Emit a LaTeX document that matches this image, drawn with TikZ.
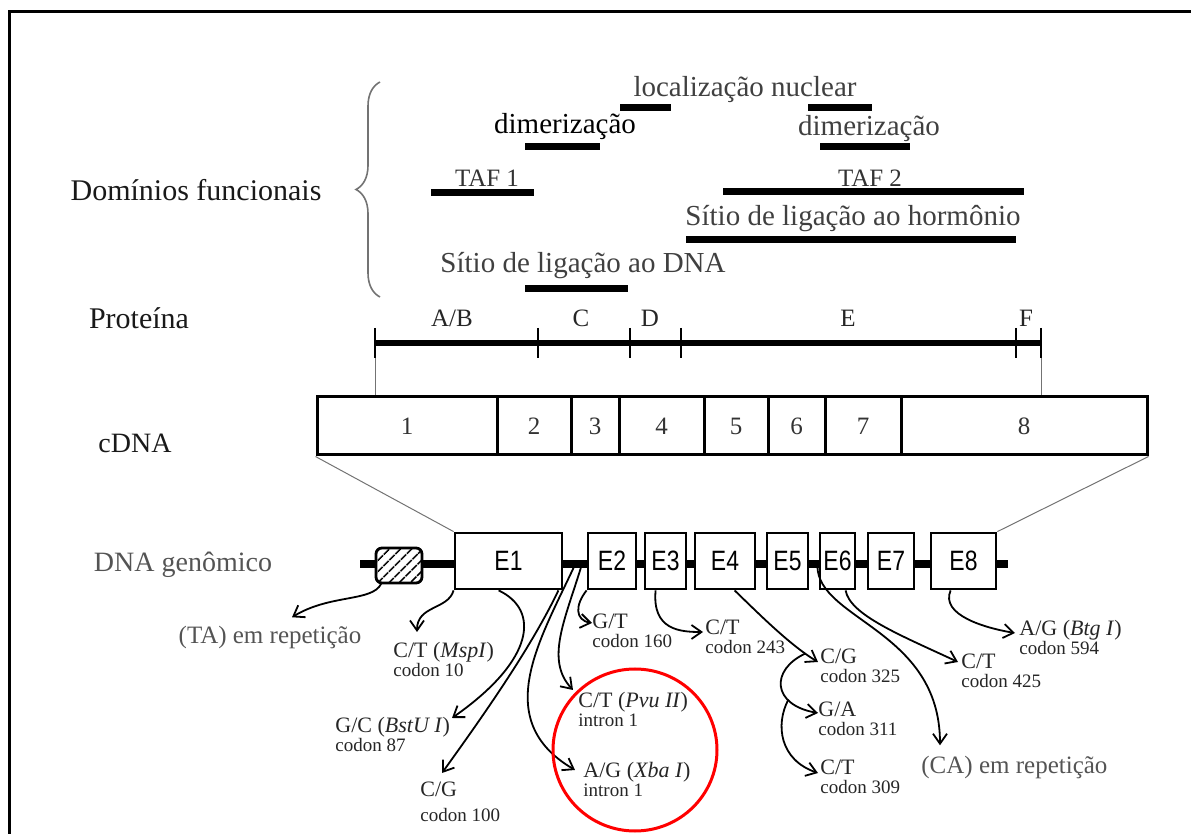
\documentclass[tikz,border=0pt]{standalone}
\usepackage{fontspec}
\setmainfont{Liberation Serif}
\newfontfamily\exonfont[FakeStretch=0.82]{Liberation Sans}
\usepackage{tikz}
\usetikzlibrary{arrows.meta,positioning,calc,patterns.meta,decorations.pathreplacing}
\usepackage{xcolor}
\definecolor{txtgray}{gray}{0.33}
\definecolor{linegray}{gray}{0.45}
\newcommand{\codfont}{\fontsize{9.5}{9.5}\selectfont}
\newcommand{\cdn}[1]{\\{\codfont #1}}

\begin{document}
\begin{tikzpicture}[
  x=0.5pt, y=-0.5pt,
  lbl/.style={font=\fontsize{15}{17}\selectfont, text=black!90, inner sep=1pt},
  dom/.style={font=\fontsize{14.5}{16}\selectfont, text=black!75, inner sep=1pt},
  taf/.style={font=\fontsize{12.5}{14}\selectfont, text=black!80, inner sep=1pt},
  bar/.style={line width=3.5pt},
  seg/.style={draw, line width=1.5pt, minimum height=29pt, inner sep=0pt, font=\fontsize{12.5}{14}\selectfont, text=black!80},
  exon/.style={draw, line width=1.4pt, fill=white, minimum height=28pt, inner sep=0pt, font=\exonfont\fontsize{14}{16}\selectfont},
  mut/.style={font=\fontsize{11}{9.5}\selectfont, align=left, inner sep=1pt, anchor=north west, text=black!85},
  rep/.style={font=\fontsize{12.5}{14}\selectfont, inner sep=1pt, text=txtgray},
  arr/.style={-{Straight Barb[length=5pt,width=7pt]}, line width=0.9pt},
  guide/.style={draw=linegray, line width=0.5pt}
]
\useasboundingbox (0,0) rectangle (1191,834);
\draw[line width=1.5pt] (9,834) -- (9,12) -- (1191,12);

% functional domains
\node[lbl] (dominios) at (196,190) {Domínios funcionais};
\draw[linegray, line width=0.8pt, decorate, decoration={brace, amplitude=12pt}] (380,297) -- (380,82);
\node[dom] (nuc) at (745,90) {localização nuclear};
\node[dom, text=black] (dim1) at (565,127) {dimerização};
\node[dom] (dim2) at (869,129) {dimerização};
\node[taf] (taf1) at (487,178) {TAF 1};
\node[taf] (taf2) at (870,178) {TAF 2};
\node[dom] (hor) at (853,219) {Sítio de ligação ao hormônio};
\node[dom] (dbd) at (583,266) {Sítio de ligação ao DNA};
\draw[bar] (620,108) -- (671,108);
\draw[bar] (808,108) -- (872,108);
\draw[bar] (525,147) -- (600,147);
\draw[bar] (820,147) -- (910,147);
\draw[bar] (431,193) -- (534,193);
\draw[bar] (723,192) -- (1024,192);
\draw[bar] (686,240) -- (1016,240);
\draw[bar] (525,289) -- (628,289);

% protein
\node[lbl] (prot) at (139,318) {Proteína};
\coordinate (pa) at (375,343);
\coordinate (pf) at (1041,343);
\draw[line width=3pt] (pa) -- (pf);
\foreach \x in {375,538,630,681,1016,1041}
  \draw[line width=1.2pt] (\x,328) -- (\x,358);
\foreach \x/\t [count=\i] in {452/{A/B},581/C,650/D,848/E,1026/F}
  \node[font=\fontsize{12.5}{14}\selectfont, text=black!85] (reg\i) at (\x,318) {\t};

% cDNA
\node[lbl, font=\fontsize{14}{16}\selectfont] (cdna) at (135,443) {cDNA};
\foreach \a/\b/\n in {317/497/1,497/571/2,571/619/3,619/704/4,704/768/5,768/825/6,825/901/7,901/1147/8}
  \node[seg, minimum width={(\b-\a)*0.5pt}] (c\n) at ({(\a+\b)/2},426) {\n};
\draw[guide] ($(pa)+(0,15)$) -- (pa |- c1.north);
\draw[guide] ($(pf)+(0,15)$) -- (pf |- c8.north);

% genomic DNA
\node[lbl, font=\fontsize{14}{16}\selectfont, text=txtgray] (gen) at (183,565) {DNA genômico};
\coordinate (dstart) at (360,564);
\coordinate (dend) at (1008,564);
\draw[line width=4pt] (dstart) -- (dend);
\node[draw, line width=1.4pt, rounded corners=3pt, minimum width=23pt, minimum height=17.5pt,
  preaction={fill=white}, pattern={Lines[angle=45,distance=4pt,line width=0.9pt]}] (hatch) at (399,565.5) {};
\foreach \n/\c/\w in {1/508.5/107,2/612/48,3/665.5/41,4/725/60,5/787.5/41,6/837.5/35,7/891/46,8/963.5/65}
  \node[exon, minimum width=\w*0.5pt] (e\n) at (\c,561) {E\n};
\draw[guide] (c1.south west) -- (e1.north west);
\draw[guide] (c8.south east) -- (e8.north east);

% polymorphisms
\node[rep] (ta) at (270,637) {(TA) em repetição};
\node[rep, anchor=west] (ca) at (919,767) {(CA) em repetição};
\node[mut] (msp) at (391,640) {C/T (\textit{MspI})\cdn{codon 10}};
\node[mut] (bst) at (333,715) {G/C (\textit{BstU I})\cdn{codon 87}};
\node[mut] (cg100) at (418,780) {C/G\\[3pt]{\codfont codon 100}};
\node[mut] (pvu) at (576,690) {C/T (\textit{Pvu II})\cdn{intron 1}};
\node[mut] (xba) at (581,760) {A/G (\textit{Xba I})\cdn{intron 1}};
\node[mut] (gt) at (590,612) {G/T\cdn{codon 160}};
\node[mut] (ct243) at (703,618) {C/T\cdn{codon 243}};
\node[mut] (cg325) at (818,647) {C/G\cdn{codon 325}};
\node[mut] (ga311) at (816,700) {G/A\cdn{codon 311}};
\node[mut] (ct309) at (818,758) {C/T\cdn{codon 309}};
\node[mut] (ct425) at (959,652) {C/T\cdn{codon 425}};
\node[mut] (btg) at (1017,618) {A/G (\textit{Btg I})\cdn{codon 594}};

\draw[arr] ($(hatch.south west)+(6,0)$) .. controls (372,602) and (330,594) .. ($(ta.north)+(22,-6)$);
\draw[arr] (e1.south west) .. controls (448,610) and (417,605) .. ($(msp.north west)+(26,-8)$);
\draw[arr] ($(e1.south west)+(45,0)$) .. controls (540,610) and (535,660) .. ($(bst.north west)+(119,3)$);
\draw[arr] ($(e1.south east)+(-5,0)$) .. controls (530,650) and (480,720) .. ($(cg100.north west)+(24,-7)$);
\draw[arr] ($(e1.east)+(18,5)$) .. controls (565,620) and (545,660) .. ($(pvu.north west)+(-3,0)$);
\draw[arr] ($(e1.east)+(11,5)$) .. controls (540,640) and (490,720) .. ($(xba.north west)+(-6,10)$);
\draw[arr] (e2.south west) .. controls (575,605) and (575,620) .. ($(gt.north west)+(2,11)$);
\draw[arr] ($(e3.south west)+(12,0)$) .. controls (652,630) and (680,632) .. ($(ct243.north west)+(0,14)$);
\draw[arr] ($(e4.south west)+(41,0)$) .. controls (760,615) and (790,645) .. ($(cg325.north west)+(0,15)$) coordinate[pos=0.85] (br1);
\draw[arr] (br1) .. controls (770,670) and (772,705) .. ($(ga311.north west)+(2,13)$) coordinate[pos=0.7] (br2);
\draw[arr] (br2) .. controls (775,725) and (780,760) .. ($(ct309.north west)+(0,15)$);
\draw[arr] ($(e5.east)+(8,5)$) .. controls (818,620) and (940,630) .. ($(ca.north west)+(21,-8)$);
\draw[arr] ($(e6.south west)+(27,0)$) .. controls (850,615) and (900,635) .. ($(ct425.north west)+(-1,10)$);
\draw[arr] ($(e8.south west)+(21,0)$) .. controls (940,615) and (985,628) .. ($(btg.north west)+(-2,15)$);

\draw[red, line width=1.5pt] (635,750) ellipse [x radius=41pt, y radius=40.5pt];
\end{tikzpicture}
\end{document}
